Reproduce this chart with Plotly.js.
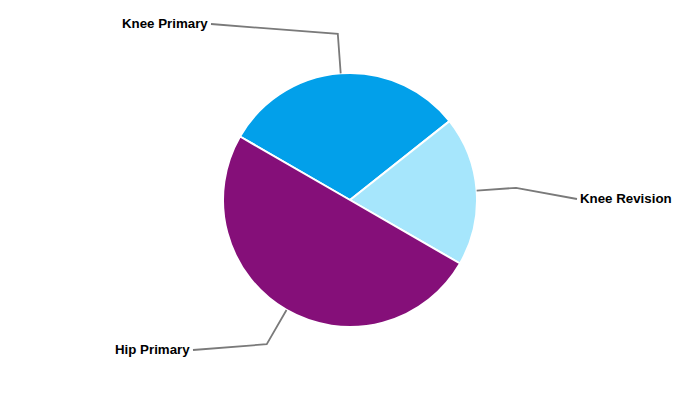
<!DOCTYPE html>
<html>
<head>
<meta charset="utf-8">
<script src="https://cdn.plot.ly/plotly-3.0.1.min.js"></script>
<style>html,body{margin:0;padding:0;background:#fff;}#chart{width:700px;height:400px;}</style>
</head>
<body>
<div id="chart"></div>
<script>
// Data
var categories = ["Knee Primary", "Knee Revision", "Hip Primary"];
var values = [31, 19, 50];
var colors = ["#02A0EA", "#A6E6FC", "#850F79"];

// Layout constants (pixels)
var W = 700, H = 400;
var cx = 350, cy = 200, R = 127;
var rotation = -60;          // degrees clockwise from 12 o'clock
var elbowR = 166.5;          // radius of leader elbow
// label anchor points (end of leader line) and text side
var labelEnds = [
  {x: 211, y: 24, side: "right"},
  {x: 577, y: 199, side: "left"},
  {x: 193, y: 350, side: "right"}
];

function px(x){ return x / W; }
function py(y){ return 1 - y / H; }

var total = values.reduce(function(a,b){return a+b;}, 0);
var shapes = [], annotations = [];
var start = rotation; // clockwise degrees from top
for (var i = 0; i < values.length; i++) {
  var sweep = values[i] / total * 360;
  var mid = (start + sweep / 2) * Math.PI / 180;
  var ex = cx + R * Math.sin(mid), ey = cy - R * Math.cos(mid);
  var bx = cx + elbowR * Math.sin(mid), by = cy - elbowR * Math.cos(mid);
  var le = labelEnds[i];
  shapes.push({
    type: "path", xref: "paper", yref: "paper",
    path: "M " + px(ex) + "," + py(ey) + " L " + px(bx) + "," + py(by) + " L " + px(le.x) + "," + py(le.y),
    line: {color: "#7a7a7a", width: 1.8}
  });
  annotations.push({
    xref: "paper", yref: "paper",
    x: px(le.side === "right" ? le.x - 1 : le.x + 1), y: py(le.y - 1),
    xanchor: le.side === "right" ? "right" : "left", yanchor: "middle",
    text: "<b>" + categories[i] + "</b>", showarrow: false,
    font: {family: "Liberation Sans, Arial, sans-serif", size: 13.3, color: "#000"}
  });
  start += sweep;
}

var trace = {
  type: "pie",
  labels: categories,
  values: values,
  sort: false,
  direction: "clockwise",
  rotation: rotation,
  marker: {colors: colors, line: {color: "#ffffff", width: 2}},
  textinfo: "none",
  textposition: "none",
  hoverinfo: "label+percent",
  showlegend: false,
  domain: {x: [px(cx - R), px(cx + R)], y: [py(cy + R), py(cy - R)]}
};

var layout = {
  width: W, height: H,
  margin: {l: 0, r: 0, t: 0, b: 0},
  paper_bgcolor: "#ffffff",
  plot_bgcolor: "#ffffff",
  showlegend: false,
  shapes: shapes,
  annotations: annotations
};

Plotly.newPlot("chart", [trace], layout, {displayModeBar: false, staticPlot: true});
</script>
</body>
</html>
